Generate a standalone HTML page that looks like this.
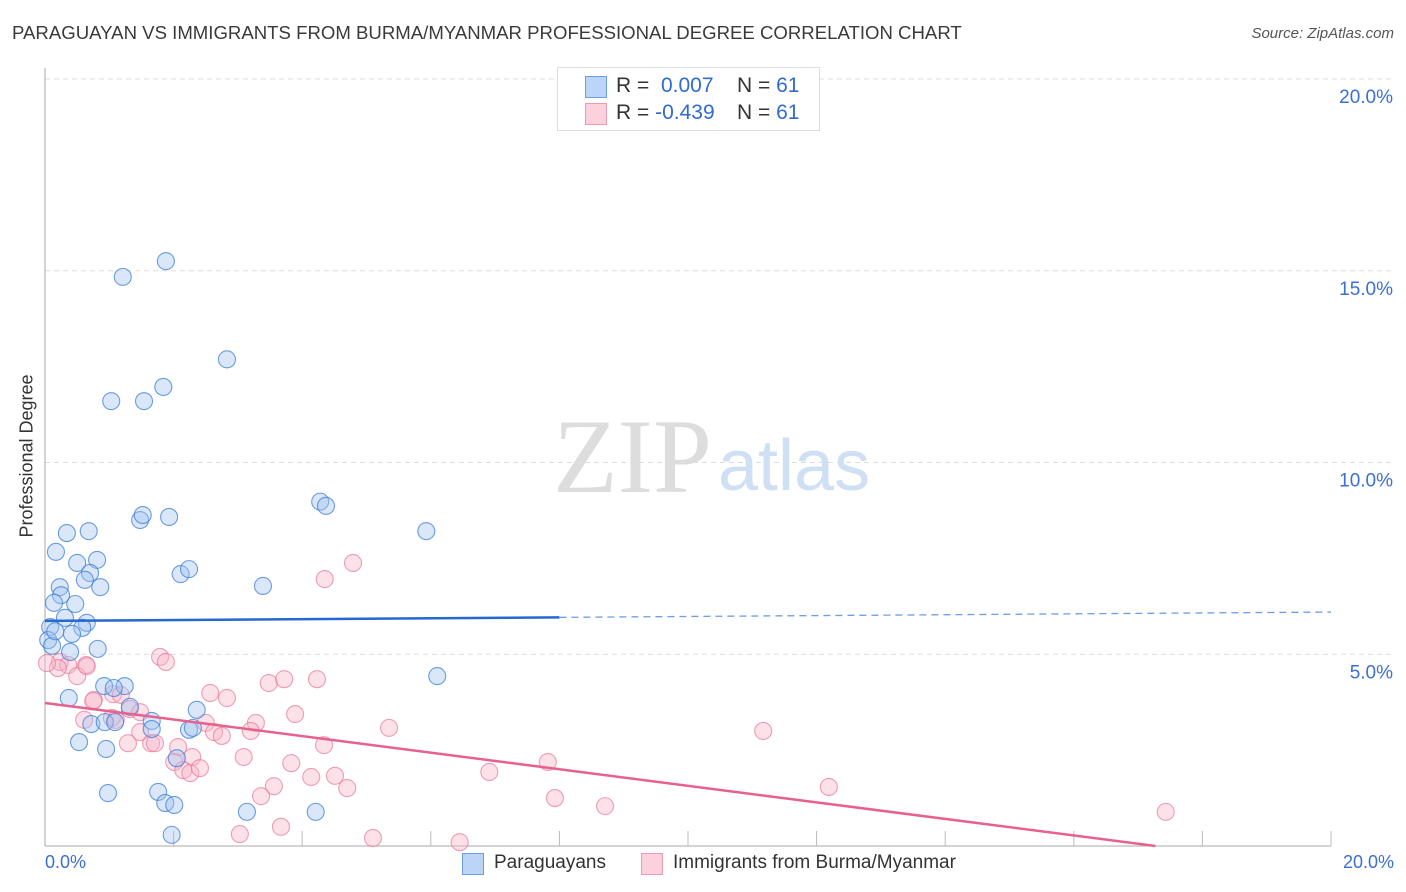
<!DOCTYPE html>
<html><head><meta charset="utf-8"><style>
body{margin:0;background:#fff;font-family:"Liberation Sans",sans-serif;}
#wrap{position:relative;width:1406px;height:892px;overflow:hidden;}
.t{position:absolute;white-space:nowrap;}
</style></head><body>
<div id="wrap">
<div class="t" style="left:12px;top:22px;font-size:18.6px;color:#3a3a3a;">PARAGUAYAN VS IMMIGRANTS FROM BURMA/MYANMAR PROFESSIONAL DEGREE CORRELATION CHART</div>
<div class="t" style="right:12px;top:25px;font-size:15px;color:#555;font-style:italic;">Source: ZipAtlas.com</div>
<div class="t" style="left:27px;top:456px;font-size:18px;color:#333;transform:translate(-50%,-50%) rotate(-90deg);">Professional Degree</div>
<svg id="plot" width="1406" height="892" style="position:absolute;left:0;top:0"></svg>
<div style="position:absolute;left:557px;top:67px;width:261px;height:62px;border:1px solid #ddd;background:#fff;font-size:21px;">
 <div style="position:absolute;left:27px;top:8px;width:20px;height:20px;background:#bcd4f5;border:1px solid #6d9de3"></div>
 <div class="t" style="left:58px;top:6px;color:#333">R = <span style="color:#2f6bd0">&nbsp;0.007</span></div>
 <div class="t" style="left:179px;top:6px;color:#333">N = <span style="color:#2f6bd0">61</span></div>
 <div style="position:absolute;left:27px;top:35px;width:20px;height:20px;background:#fcd0dc;border:1px solid #ec9ab2"></div>
 <div class="t" style="left:58px;top:33px;color:#333">R = <span style="color:#2f6bd0">-0.439</span></div>
 <div class="t" style="left:179px;top:33px;color:#333">N = <span style="color:#2f6bd0">61</span></div>
</div>
<div class="t" style="left:45px;top:852px;font-size:18px;color:#3b6fd4">0.0%</div>
<div class="t" style="right:12px;top:852px;font-size:18px;color:#3b6fd4">20.0%</div>
<div style="position:absolute;left:462px;top:853px;width:20px;height:20px;background:#bcd4f5;border:1px solid #6d9de3"></div>
<div class="t" style="left:494px;top:852px;font-size:19px;color:#333">Paraguayans</div>
<div style="position:absolute;left:641px;top:853px;width:20px;height:20px;background:#fcd0dc;border:1px solid #ec9ab2"></div>
<div class="t" style="left:673px;top:852px;font-size:19px;color:#333">Immigrants from Burma/Myanmar</div>
</div>
<script>
const yTicks=[5,10,15,20];
const yTickLabels=["5.0%","10.0%","15.0%","20.0%"];
const blueX=[1.21,1.88,2.83,1.03,1.54,1.84,4.28,4.37,1.48,1.52,1.93,0.34,0.68,5.93,0.17,0.81,0.50,0.70,2.11,2.24,3.39,0.23,0.62,0.86,0.25,0.14,0.47,0.31,0.65,0.58,0.42,0.08,0.05,0.39,0.82,6.1,0.92,1.24,1.07,0.37,1.32,2.36,1.66,1.66,0.72,0.93,1.09,2.24,2.30,0.53,0.95,2.05,0.98,1.76,1.87,2.01,3.14,4.21,1.97,0.11,0.16];
const blueY=[14.84,15.25,12.69,11.6,11.6,11.97,8.98,8.87,8.5,8.63,8.58,8.16,8.21,8.21,7.67,7.46,7.38,7.12,7.09,7.22,6.78,6.75,6.94,6.75,6.54,6.34,6.31,5.95,5.82,5.69,5.53,5.71,5.37,5.06,5.14,4.43,4.17,4.17,4.12,3.86,3.63,3.55,3.26,3.05,3.18,3.23,3.23,3.03,3.08,2.71,2.53,2.29,1.38,1.41,1.12,1.07,0.89,0.89,0.29,5.22,5.6];
const pinkX=[4.79,4.35,1.79,1.88,0.23,0.36,0.20,0.64,0.50,0.65,0.03,0.76,1.06,0.75,1.18,2.57,2.83,3.48,3.72,4.23,1.32,1.04,0.61,1.10,1.48,2.50,3.28,3.89,5.35,11.17,1.29,1.48,1.65,1.71,2.07,2.63,2.75,3.20,4.34,2.29,2.01,2.15,2.26,2.41,3.09,3.83,4.14,4.51,4.70,3.56,3.36,6.91,7.82,12.19,7.93,8.71,3.67,3.03,5.10,6.45,17.43];
const pinkY=[7.38,6.96,4.93,4.8,4.8,4.72,4.64,4.72,4.43,4.69,4.77,3.81,3.96,3.78,3.94,3.99,3.86,4.25,4.35,4.35,3.57,3.34,3.29,3.29,3.49,3.21,3.21,3.44,3.08,3.0,2.68,2.97,2.68,2.68,2.58,2.97,2.87,3.0,2.63,2.32,2.19,1.98,1.9,2.03,2.32,2.16,1.8,1.83,1.51,1.56,1.30,1.93,2.19,1.54,1.25,1.04,0.5,0.31,0.21,0.1,0.89];
const trendBlue=[5.87,0.0115];
const trendPink=[3.73,-0.216];
const svg=document.getElementById('plot');const NS='http://www.w3.org/2000/svg';
const X=v=>45+v*64.3, Y=v=>846-v*38.35;
function el(t,a){const e=document.createElementNS(NS,t);for(const k in a)e.setAttribute(k,a[k]);svg.appendChild(e);return e;}
yTicks.forEach((t,i)=>{
 const g=el('line',{x1:45,x2:1393,y1:Y(t),y2:Y(t),stroke:'#ddd','stroke-dasharray':'5,4'});
 
 
 const tx=el('text',{x:1393,y:Y(t)+24,'text-anchor':'end','font-size':19,fill:'#3b6fd4','font-family':'Liberation Sans'});tx.textContent=yTickLabels[i];
 
 
});
for(let i=0;i<=10;i++){const l=el('line',{x1:X(i*2),x2:X(i*2),y1:831,y2:846,stroke:'#bbb'});
 
 }
el('line',{x1:45,x2:45,y1:68,y2:846,stroke:'#aaa'});
el('line',{x1:45,x2:1331,y1:846,y2:846,stroke:'#aaa'});
const w1=el('text',{x:553,y:492,'font-size':106,fill:'#ddd','font-family':'Liberation Serif'});w1.textContent='ZIP';


const w2=el('text',{x:718,y:490,'font-size':72,fill:'#cfe0f5','font-family':'Liberation Sans'});w2.textContent='atlas';


function dots(xs,ys,fill,stroke,name){xs.forEach((x,i)=>{const c=el('circle',{cx:X(x),cy:Y(ys[i]),r:8.5,fill:fill,stroke:stroke,'stroke-width':1.1});
 
 });}
dots(pinkX,pinkY,'rgba(248,180,200,0.4)','rgba(232,120,155,0.7)','burma-point');
dots(blueX,blueY,'rgba(160,195,240,0.4)','rgba(60,125,215,0.75)','paraguayan-point');
const bl=el('line',{x1:X(0),y1:Y(trendBlue[0]),x2:X(8),y2:Y(trendBlue[0]+8*trendBlue[1]),stroke:'#2468d0','stroke-width':2.5});


const bd=el('line',{x1:X(8),y1:Y(trendBlue[0]+8*trendBlue[1]),x2:X(20),y2:Y(trendBlue[0]+20*trendBlue[1]),stroke:'#6d9de3','stroke-width':1.3,'stroke-dasharray':'7,5'});


const xe=-trendPink[0]/trendPink[1];
const pl=el('line',{x1:X(0),y1:Y(trendPink[0]),x2:X(xe),y2:Y(0),stroke:'#e8608d','stroke-width':2.5});


</script>
</body></html>
